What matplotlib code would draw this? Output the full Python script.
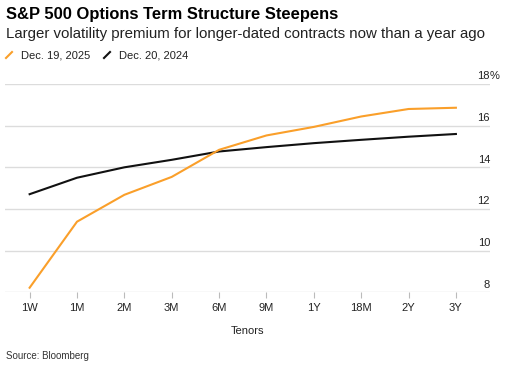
import matplotlib
matplotlib.use("Agg")
import matplotlib.pyplot as plt
import matplotlib.transforms as mtransforms
from matplotlib.lines import Line2D

# Data
tenors = ["1W", "1M", "2M", "3M", "6M", "9M", "1Y", "18M", "2Y", "3Y"]
vol_2025 = [8.22, 11.39, 12.68, 13.54, 14.84, 15.53, 15.94, 16.44, 16.80, 16.86]
vol_2024 = [12.71, 13.50, 14.00, 14.36, 14.76, 14.97, 15.16, 15.32, 15.47, 15.60]
y_ticks = [8, 10, 12, 14, 16, 18]

ORANGE = "#fa9f2a"
BLACK = "#111111"
GRID = "#dcdcdc"

plt.rcParams["font.family"] = ["Liberation Sans", "DejaVu Sans"]

fig = plt.figure(figsize=(5.1, 3.7), dpi=100)
ax = fig.add_axes([5 / 510, 1 - 292.3 / 370, 485 / 510, (292.3 - 84) / 370])

x = list(range(len(tenors)))
ax.plot(x, vol_2024, color=BLACK, lw=1.5, solid_joinstyle="round", zorder=3)
ax.plot(x, vol_2025, color=ORANGE, lw=1.5, solid_joinstyle="round", zorder=4)

ax.set_xlim(-0.52, 9.72)
ax.set_ylim(8, 18)

# horizontal grid lines
for v in y_ticks:
    ax.axhline(v, color=GRID, lw=1, zorder=1)

# y labels sit above the grid lines at the right edge, "%" hangs past the edge
trans = mtransforms.blended_transform_factory(ax.transAxes, ax.transData)
offset = mtransforms.offset_copy(trans, fig=fig, x=0, y=2, units="points")
for v in y_ticks:
    ax.text(1.0, v, str(v), transform=offset, ha="right", va="bottom",
            fontsize=8, color="#222222", clip_on=False)
ax.text(1.0, y_ticks[-1], "%", transform=offset, ha="left", va="bottom",
        fontsize=8, color="#222222", clip_on=False)

ax.set_yticks([])
ax.set_xticks(x)
ax.set_xticklabels(tenors, fontsize=8, color="#222222")
ax.tick_params(axis="x", length=4, width=0.8, color="#bbbbbb", pad=4)
for s in ax.spines.values():
    s.set_visible(False)
ax.set_xlabel("Tenors", fontsize=8, color="#222222", labelpad=9)

fig.text(6 / 510, 1 - 14 / 370, "S&P 500 Options Term Structure Steepens",
         fontsize=11.85, fontweight="bold", va="center", ha="left", color="#000000")
fig.text(6 / 510, 1 - 34 / 370, "Larger volatility premium for longer-dated contracts now than a year ago",
         fontsize=10.85, va="center", ha="left", color="#222222")

# legend with short diagonal strokes
for lx, col, lab in [(6, ORANGE, "Dec. 19, 2025"), (104, BLACK, "Dec. 20, 2024")]:
    fig.add_artist(Line2D([lx / 510, (lx + 6) / 510], [1 - 58 / 370, 1 - 52 / 370],
                          color=col, lw=1.5, transform=fig.transFigure))
    fig.text((lx + 15) / 510, 1 - 55 / 370, lab, fontsize=8, va="center", ha="left",
             color="#222222")

fig.text(6 / 510, 1 - 356 / 370, "Source: Bloomberg", fontsize=7, va="center",
         ha="left", color="#333333")

fig.savefig("out.png", dpi=100, facecolor="white")
